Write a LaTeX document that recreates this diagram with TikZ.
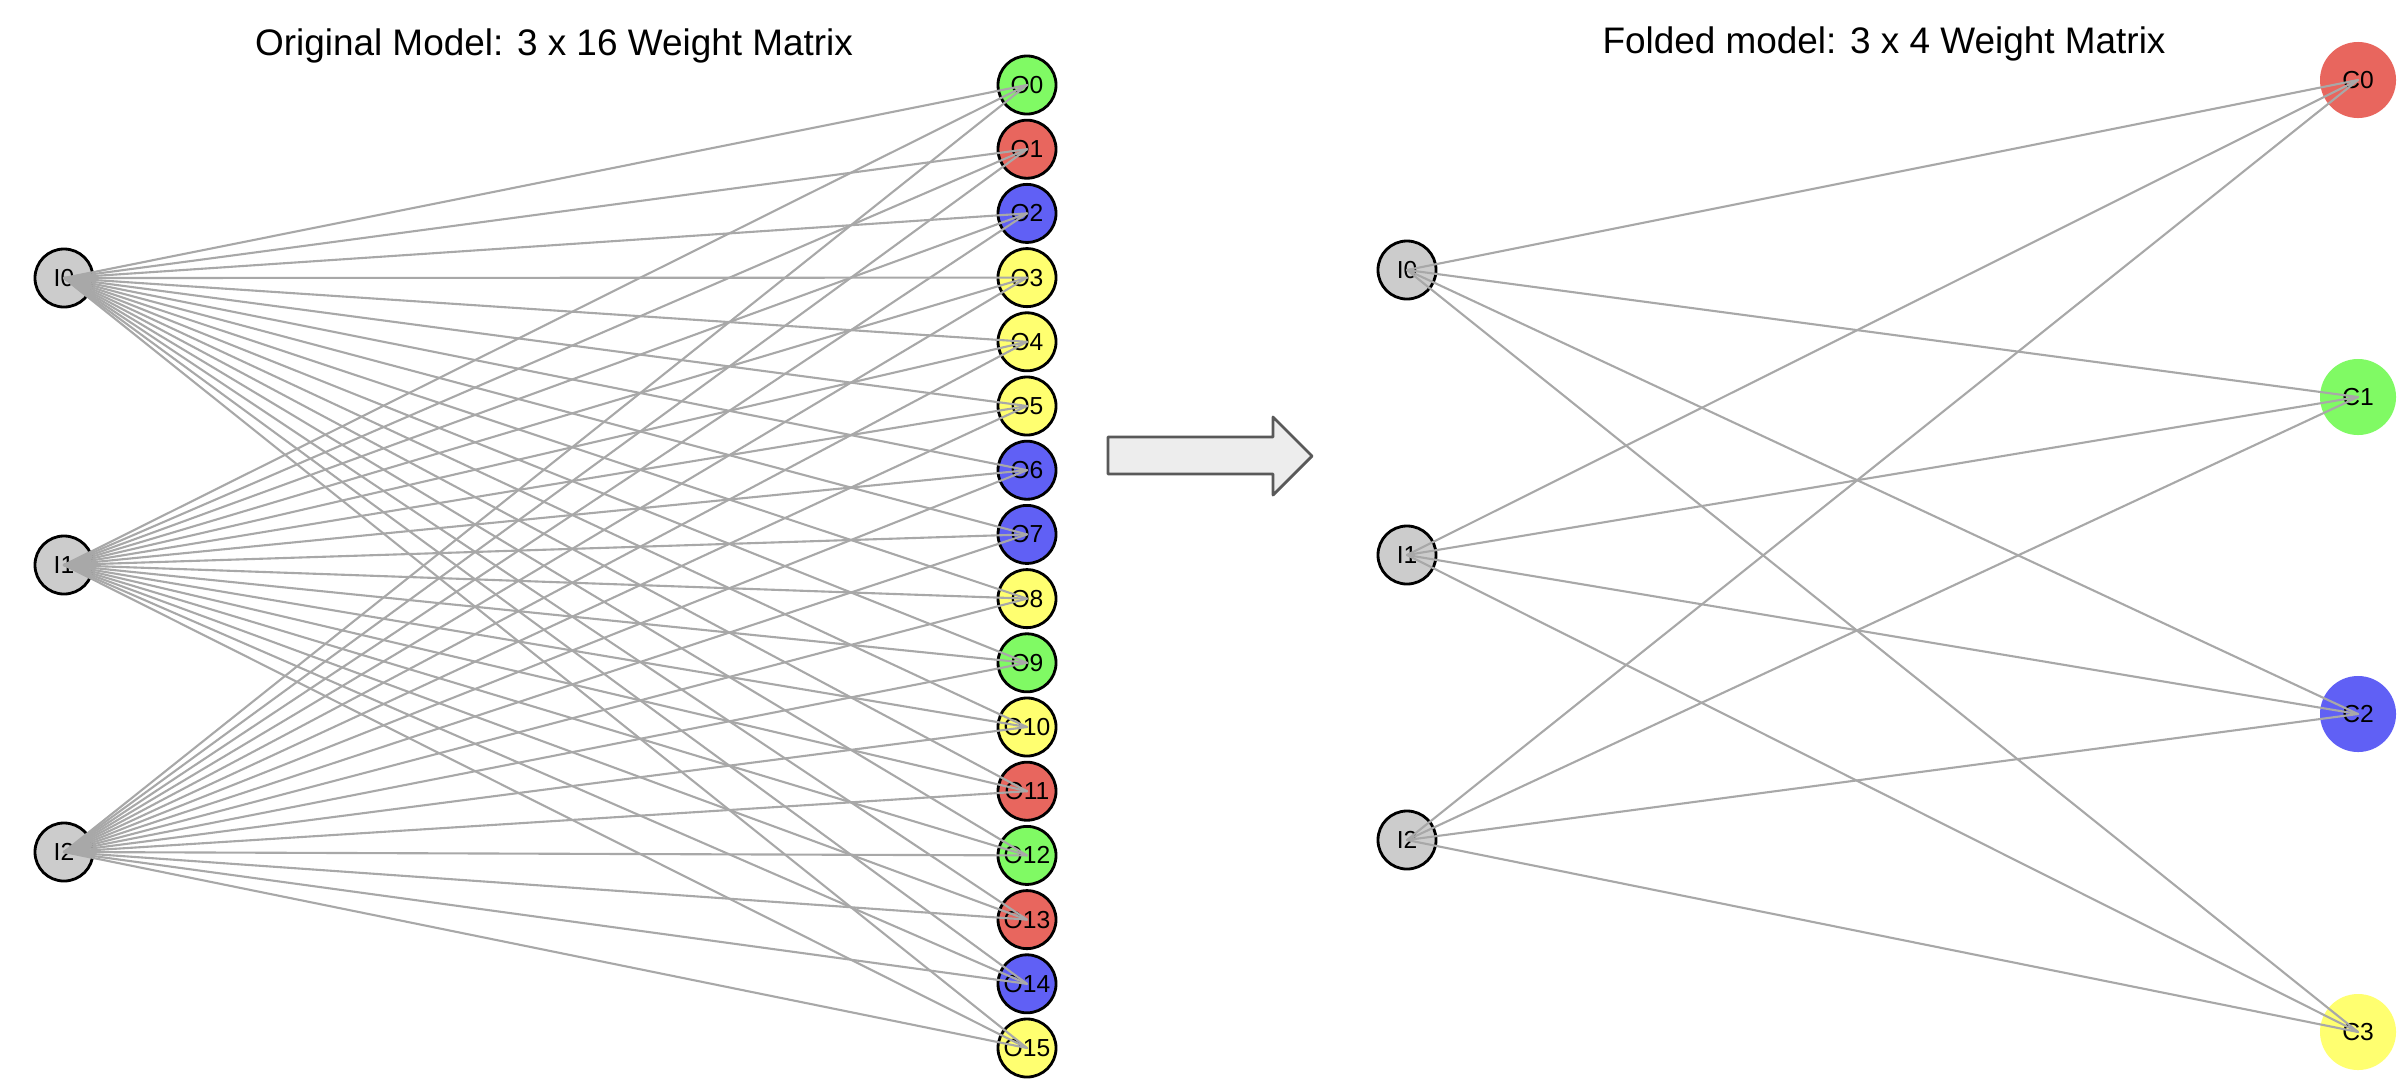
\documentclass[tikz,border=0pt]{standalone}
\usepackage{fontspec}
\setmainfont{Liberation Sans}
\usepackage{xcolor}

% node colours
\definecolor{ogreen}{RGB}{128,250,100}
\definecolor{ored}{RGB}{232,102,94}
\definecolor{oblue}{RGB}{96,96,245}
\definecolor{oyellow}{RGB}{255,255,112}
\definecolor{ogray}{RGB}{204,204,204}
\definecolor{wiregray}{RGB}{168,168,168}

\begin{document}
\begin{tikzpicture}[line cap=round,line join=round,x=0.01cm,y=-0.01cm,
  inode/.style={circle,draw=black,line width=0.8pt,fill=ogray,minimum size=0.58cm,inner sep=0pt,
    font=\fontsize{7}{8}\selectfont},
  onode/.style={inode,fill=#1},
  cnode/.style={circle,fill=#1,minimum size=0.76cm,inner sep=0pt,font=\fontsize{7}{8}\selectfont},
  wire/.style={draw=wiregray,line width=0.6pt},
  titletext/.style={font=\fontsize{10.5}{12}\selectfont}]

\useasboundingbox (0,0) rectangle (2406,1078);

% layout (pixels of the original figure)
\def\lx{64}   % x of left inputs
\def\ox{1027} % x of outputs
\def\rx{1407} % x of folded inputs
\def\cx{2358} % x of folded outputs

% titles
\node[titletext] (lefttitle) at (554,46) {Original Model: 3 x 16 Weight Matrix};
\node[titletext] (righttitle) at (1884,44) {Folded model: 3 x 4 Weight Matrix};

% original model: inputs and outputs
\foreach \i/\y in {0/278,1/565,2/852}
  \node[inode] (I\i) at (\lx,\y) {I\i};
\foreach \c [count=\j from 0] in {ogreen,ored,oblue,oyellow,oyellow,oyellow,oblue,oblue,
                                  oyellow,ogreen,oyellow,ored,ogreen,ored,oblue,oyellow}
  \node[onode=\c] (O\j) at (\ox,{85+64.2*\j}) {O\j};

% weights 3 x 16
\foreach \i in {0,1,2}
  \foreach \j in {0,...,15}
    \draw[wire] (I\i.center) -- (O\j.center);

% folding arrow
\draw[fill=black!7,draw=black!65,line width=0.8pt]
  (1108,437) -- (1273,437) -- (1273,417) -- (1312,456) -- (1273,495) -- (1273,474) -- (1108,474) -- cycle;

% folded model: inputs and outputs
\foreach \i/\y in {0/270,1/555,2/840}
  \node[inode] (fI\i) at (\rx,\y) {I\i};
\foreach \c/\y [count=\j from 0] in {ored/80,ogreen/397,oblue/714,oyellow/1032}
  \node[cnode=\c] (fC\j) at (\cx,\y) {C\j};

% weights 3 x 4
\foreach \i in {0,1,2}
  \foreach \j in {0,...,3}
    \draw[wire] (fI\i.center) -- (fC\j.center);

\end{tikzpicture}
\end{document}
